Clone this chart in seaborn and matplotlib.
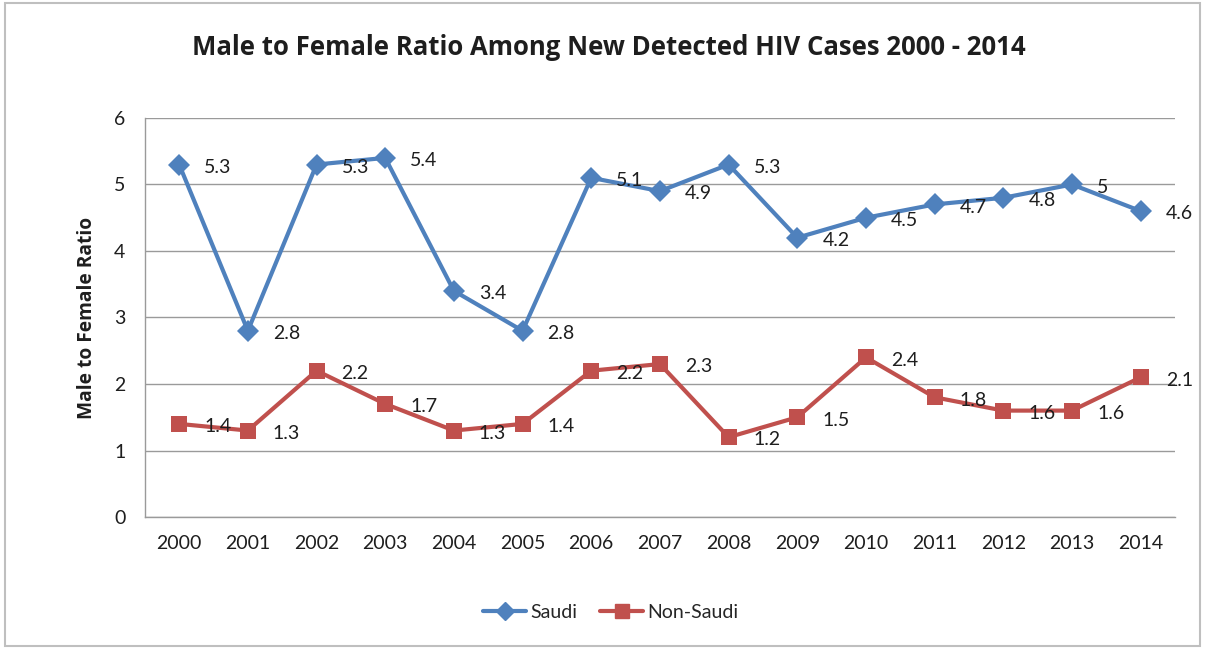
import matplotlib
matplotlib.use("Agg")
import matplotlib.pyplot as plt
from matplotlib.patches import Rectangle
from matplotlib.ticker import FixedLocator
from matplotlib.lines import Line2D
import seaborn as sns
import pandas as pd

years = ["2000", "2001", "2002", "2003", "2004", "2005", "2006", "2007",
         "2008", "2009", "2010", "2011", "2012", "2013", "2014"]
saudi = [5.3, 2.8, 5.3, 5.4, 3.4, 2.8, 5.1, 4.9, 5.3, 4.2, 4.5, 4.7, 4.8, 5, 4.6]
non_saudi = [1.4, 1.3, 2.2, 1.7, 1.3, 1.4, 2.2, 2.3, 1.2, 1.5, 2.4, 1.8, 1.6, 1.6, 2.1]
series_names = ["Saudi", "Non-Saudi"]

df = pd.DataFrame({
    "Year": years * 2,
    "Ratio": saudi + non_saudi,
    "Series": [series_names[0]] * len(years) + [series_names[1]] * len(years),
})

sns.set_style("white")
plt.rcParams["font.family"] = ["Lato", "DejaVu Sans"]
bold_family = ["Open Sans", "DejaVu Sans"]

blue = "#4F81BD"
red = "#C0504D"
grid_c = "#9A9A9A"
txt_c = "#1E1E1E"

fig = plt.figure(figsize=(12.07, 6.5), dpi=100)
ax = fig.add_axes([0.120, 0.2046, 0.8535, 0.6139])

sns.lineplot(data=df, x="Year", y="Ratio", hue="Series", style="Series",
             palette={"Saudi": blue, "Non-Saudi": red},
             markers={"Saudi": "D", "Non-Saudi": "s"}, dashes=False,
             linewidth=3.0, markersize=10, markeredgewidth=0,
             sort=False, ax=ax, legend=False)
for ln in ax.lines:
    if ln.get_marker() == "s":
        ln.set_markersize(12)
    else:
        ln.set_markersize(11)

ax.set_xlim(-0.5, len(years) - 0.5)
ax.set_ylim(0, 6)
ax.set_yticks(range(0, 7))
ax.yaxis.grid(True, color=grid_c, linewidth=1.0)
ax.set_axisbelow(True)
for s in ["top", "right"]:
    ax.spines[s].set_visible(False)
for s in ["left", "bottom"]:
    ax.spines[s].set_color(grid_c)
    ax.spines[s].set_linewidth(1.0)

ax.set_xticks(range(len(years)))
ax.set_xticklabels(years)
ax.tick_params(axis="x", which="major", length=0, pad=13, labelsize=14, colors=txt_c)
ax.xaxis.set_minor_locator(FixedLocator([i - 0.5 for i in range(len(years) + 1)]))
ax.tick_params(axis="x", which="minor", length=6, color=grid_c, width=1.0)
ax.tick_params(axis="y", which="major", length=6, color=grid_c, width=1.0,
               labelsize=14, pad=8, colors=txt_c)

ax.set_xlabel("")
ax.set_ylabel("Male to Female Ratio", fontsize=13.8, fontweight="bold",
              family=bold_family, labelpad=12, color=txt_c)

def fmt(v):
    return str(int(v)) if float(v).is_integer() else f"{v:g}"

for vals in (saudi, non_saudi):
    for i, v in enumerate(vals):
        ax.annotate(fmt(v), xy=(i, v), xytext=(18, -2), textcoords="offset points",
                    ha="left", va="center", fontsize=14, color=txt_c)

fig.suptitle("Male to Female Ratio Among New Detected HIV Cases 2000 - 2014",
             x=0.504, y=0.927, va="center", fontsize=18.5, fontweight="bold",
             family=bold_family, color=txt_c)

handles = [Line2D([], [], color=blue, marker="D", linewidth=3.0, markersize=9),
           Line2D([], [], color=red, marker="s", linewidth=3.0, markersize=10)]
fig.legend(handles, series_names, loc="center", bbox_to_anchor=(0.506, 0.058),
           ncol=2, frameon=False, fontsize=14, handlelength=2.2,
           handletextpad=0.2, columnspacing=1.2)

fig.patches.append(Rectangle((0.004, 0.006), 0.99, 0.99, transform=fig.transFigure,
                             fill=False, edgecolor="#BFBFBF", linewidth=1.5))

fig.savefig("out.png", dpi=100)
